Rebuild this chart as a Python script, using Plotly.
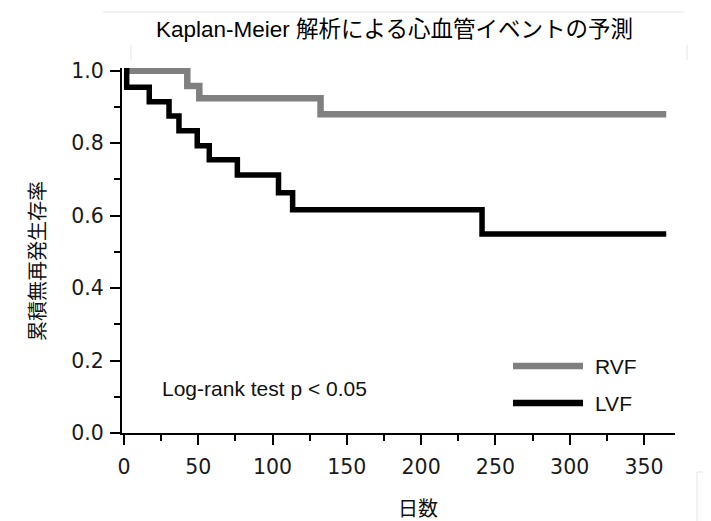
import plotly.graph_objects as go

# ---- data ----
rvf_days = [0, 42.6, 50.7, 132.3, 365]
rvf_surv = [1.0, 0.958, 0.924, 0.880, 0.880]

lvf_days = [0, 1.8, 17, 30.3, 37, 49.3, 57.4, 76.3, 104, 113.5, 241, 365]
lvf_surv = [1.0, 0.954, 0.914, 0.875, 0.834, 0.793, 0.754, 0.712, 0.663, 0.616, 0.549, 0.549]

x_ticks = [0, 50, 100, 150, 200, 250, 300, 350]
y_ticks = [0.0, 0.2, 0.4, 0.6, 0.8, 1.0]

title_text = "Kaplan-Meier 解析による心血管イベントの予測"
x_title = "日数"
y_title = "累積無再発生存率"
note_text = "Log-rank test p < 0.05"
series_names = ["RVF", "LVF"]
series_colors = ["#808080", "#000000"]

# ---- layout geometry ----
# the page body has an 8px margin, so the figure is drawn 8px smaller and
# reference pixel positions are shifted by OFF
OFF = 8
W, H = 711 - OFF, 521 - OFF
L, R, T, B = 122 - OFF, 36, 68 - OFF, 88
PW, PH = W - L - R, H - T - B


def px(xp):
    return (xp - OFF - L) / PW


def py(yp):
    return (H - B - (yp - OFF)) / PH


fig = go.Figure()
fig.add_trace(go.Scatter(x=rvf_days, y=rvf_surv, mode="lines", name=series_names[0],
                         line=dict(color=series_colors[0], width=6.5, shape="hv"),
                         showlegend=False))
fig.add_trace(go.Scatter(x=lvf_days, y=lvf_surv, mode="lines", name=series_names[1],
                         line=dict(color=series_colors[1], width=5.5, shape="hv"),
                         showlegend=False))

tick_font = dict(family="DejaVu Sans", size=20.5, color="#1a1a1a")
text_font = "Liberation Sans, Arial, Noto Sans CJK JP, sans-serif"

fig.update_layout(
    width=W, height=H,
    margin=dict(l=L, r=R, t=T, b=B),
    plot_bgcolor="white", paper_bgcolor="white",
    xaxis=dict(range=[-1.35, 370.9], tickvals=x_ticks, showgrid=False, zeroline=False,
               showline=True, linecolor="black", linewidth=2,
               ticks="outside", ticklen=10, tickwidth=2, tickcolor="black",
               minor=dict(dtick=25, tick0=0, ticks="outside", ticklen=6, tickwidth=2,
                          tickcolor="black", showgrid=False),
               tickfont=tick_font, ticklabelstandoff=4),
    yaxis=dict(range=[0, 1.0074], tickvals=y_ticks, tickformat=".1f", showgrid=False,
               zeroline=False, showline=True, linecolor="black", linewidth=2,
               ticks="outside", ticklen=10, tickwidth=2, tickcolor="black",
               minor=dict(dtick=0.1, tick0=0, ticks="outside", ticklen=6, tickwidth=2,
                          tickcolor="black", showgrid=False),
               tickfont=tick_font, ticklabelstandoff=2),
)

annotations = [
    dict(text=title_text, x=px(394), y=py(30), xref="paper", yref="paper",
         xanchor="center", yanchor="middle", showarrow=False,
         font=dict(family=text_font, size=22.5, color="#000000")),
    dict(text=x_title, x=px(418), y=py(507), xref="paper", yref="paper",
         xanchor="center", yanchor="middle", showarrow=False,
         font=dict(family="Noto Sans CJK JP, sans-serif", size=20, color="#111111")),
    dict(text=y_title, x=px(37), y=py(261), xref="paper", yref="paper",
         xanchor="center", yanchor="middle", showarrow=False, textangle=-90,
         font=dict(family="Noto Sans CJK JP, sans-serif", size=20, color="#111111")),
    dict(text=note_text, x=px(160), y=py(388), xref="paper", yref="paper",
         xanchor="left", yanchor="middle", showarrow=False,
         font=dict(family=text_font, size=21, color="#111111")),
]
legend_y = [366, 403]
for name, color, ly in zip(series_names, series_colors, legend_y):
    annotations.append(dict(text=name, x=px(593), y=py(ly), xref="paper", yref="paper",
                            xanchor="left", yanchor="middle", showarrow=False,
                            font=dict(family=text_font, size=21, color="#111111")))
fig.update_layout(annotations=annotations)

shapes = []
for color, ly in zip(series_colors, legend_y):
    shapes.append(dict(type="line", xref="paper", yref="paper",
                       x0=px(513), x1=px(583), y0=py(ly), y1=py(ly),
                       line=dict(color=color, width=6.5)))
# faint frame artefacts from the source image
faint = dict(color="#e4e4e4", width=1)
for (x0, y0, x1, y1) in [(103, 12, 684, 12), (131, 45, 131, 60), (687, 45, 687, 60),
                         (697, 472, 697, 521), (697, 472, 711, 472)]:
    shapes.append(dict(type="line", xref="paper", yref="paper",
                       x0=px(x0), x1=px(x1), y0=py(y0), y1=py(y1), line=faint))
fig.update_layout(shapes=shapes)

fig.write_html("out.html")
